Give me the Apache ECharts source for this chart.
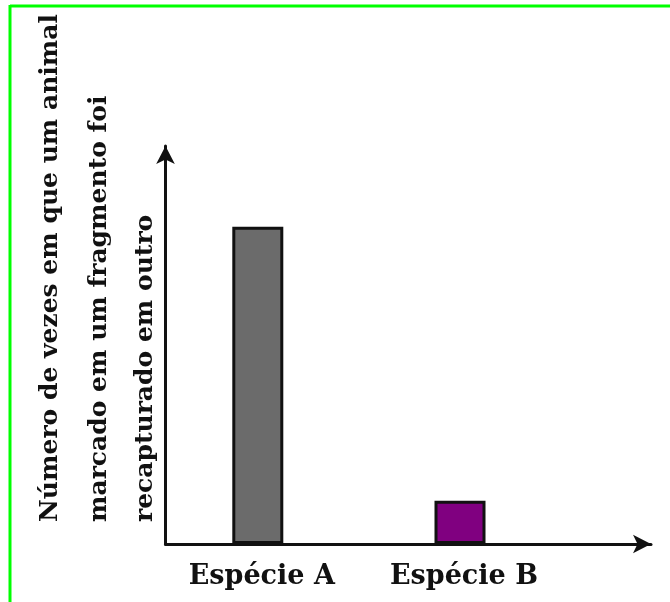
<!DOCTYPE html>
<html>
<head>
<meta charset="utf-8">
<script src="https://cdn.jsdelivr.net/npm/echarts@6/dist/echarts.min.js"></script>
<style>
html,body{margin:0;padding:0;background:#fff;}
#chart{width:670px;height:602px;}
</style>
</head>
<body>
<div id="chart"></div>
<script>
const categories = ['Espécie A', 'Espécie B'];
const values = [79.3, 10.8];
const barColors = ['#6b6b6b', '#800080'];
const yTitleLines = ['Número de vezes em que um animal', 'marcado em um fragmento foi', 'recapturado em outro'];

const chart = echarts.init(document.getElementById('chart'));
const serif = '"DejaVu Serif", "Liberation Serif", serif';
const lineX = [50, 99, 145];

const graphics = [
  { type: 'line', shape: { x1: 10, y1: 6, x2: 670, y2: 6 }, style: { stroke: '#00ff00', lineWidth: 3 } },
  { type: 'line', shape: { x1: 10, y1: 5, x2: 10, y2: 602 }, style: { stroke: '#00ff00', lineWidth: 3 } }
];
yTitleLines.forEach((t, i) => {
  graphics.push({
    type: 'text', x: lineX[i], y: 522, rotation: Math.PI / 2,
    style: { text: t, font: 'bold 25px ' + serif, fill: '#111', textAlign: 'left', textVerticalAlign: 'middle' }
  });
});

chart.setOption({
  animation: false,
  grid: [
    { left: 156.7, right: 108.9, top: 144, bottom: 58 },
    { left: 165.5, right: 19, top: 146, bottom: 58 }
  ],
  xAxis: [
    { type: 'category', gridIndex: 0, data: categories,
      axisLine: { show: false }, axisTick: { show: false },
      axisLabel: { margin: 19, padding: [0, 0, 0, 8], fontFamily: serif, fontWeight: 'bold', fontSize: 27, color: '#111' } },
    { type: 'value', gridIndex: 1, min: 0, max: 1,
      axisLine: { show: true, symbol: ['none', 'arrow'], symbolSize: [14, 18], lineStyle: { color: '#111', width: 3 } },
      axisTick: { show: false }, axisLabel: { show: false }, splitLine: { show: false } }
  ],
  yAxis: [
    { type: 'value', gridIndex: 0, min: 0, max: 100, show: false },
    { type: 'value', gridIndex: 1, min: 0, max: 1,
      axisLine: { show: true, symbol: ['none', 'arrow'], symbolSize: [14, 18], lineStyle: { color: '#111', width: 3 } },
      axisTick: { show: false }, axisLabel: { show: false }, splitLine: { show: false } }
  ],
  series: [{
    type: 'bar', xAxisIndex: 0, yAxisIndex: 0, barWidth: 51,
    data: values.map((v, i) => ({ value: v, itemStyle: { color: barColors[i] } })),
    itemStyle: { borderColor: '#111', borderWidth: 3 },
    z: 1
  }],
  graphic: graphics
});
</script>
</body>
</html>
